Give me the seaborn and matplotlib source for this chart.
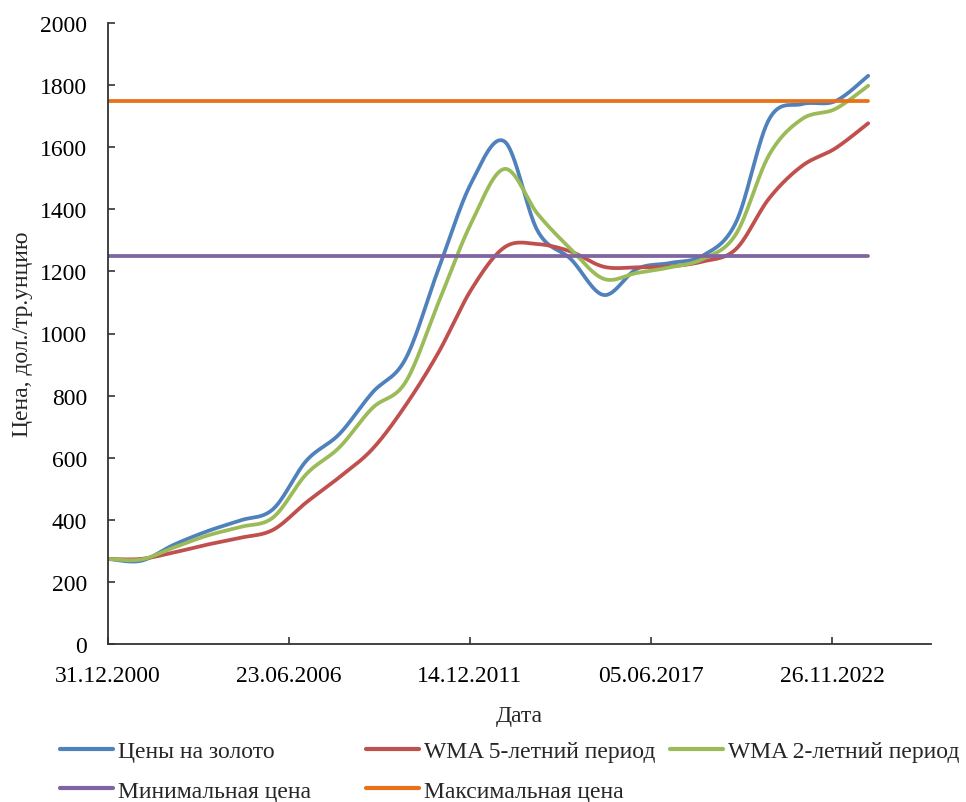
import numpy as np
import pandas as pd
import seaborn as sns
import matplotlib
matplotlib.use("Agg")
import matplotlib.pyplot as plt
from matplotlib.lines import Line2D
import datetime as dt

# ---- data ----
years = list(range(2000, 2024))
gold = [274, 268, 320, 363, 398, 435, 590, 676, 810, 918, 1208, 1487, 1618,
        1330, 1240, 1124, 1208, 1227, 1251, 1358, 1690, 1739, 1748, 1830]
wma5 = [274, 274, 295, 320, 342, 368, 456, 537, 628, 768, 939, 1143, 1278,
        1288, 1264, 1215, 1213, 1216, 1232, 1272, 1435, 1540, 1596, 1677]
wma2 = [274, 272, 311, 349, 377, 408, 547, 633, 760, 843, 1100, 1358, 1530,
        1385, 1272, 1176, 1195, 1213, 1240, 1320, 1575, 1691, 1723, 1798]
min_price = [1250] * len(years)
max_price = [1750] * len(years)
tick_dates = ["31.12.2000", "23.06.2006", "14.12.2011", "05.06.2017", "26.11.2022"]
labels = ["Цены на золото", "WMA 5-летний период", "WMA 2-летний период",
          "Минимальная цена", "Максимальная цена"]
colors = ["#4F81BD", "#C0504D", "#9BBB59", "#8064A2", "#E8711A"]

start = dt.date(2000, 12, 31)
x_days = np.array([(dt.date(y, 12, 31) - start).days for y in years], float)


def smooth(x, y, n=30):
    """Excel-like smoothed line (cubic Bezier, Catmull-Rom control points)."""
    x = np.asarray(x, float); y = np.asarray(y, float)
    P = np.column_stack([x, y])
    Pe = np.vstack([P[0], P, P[-1]])
    out = [P[0]]
    t = np.linspace(0, 1, n)[1:, None]
    for i in range(len(P) - 1):
        p0, p3 = Pe[i + 1], Pe[i + 2]
        c1 = p0 + (Pe[i + 2] - Pe[i]) / 6.0
        c2 = p3 - (Pe[i + 3] - Pe[i + 1]) / 6.0
        seg = ((1 - t) ** 3) * p0 + 3 * ((1 - t) ** 2) * t * c1 + 3 * (1 - t) * t ** 2 * c2 + t ** 3 * p3
        out.extend(seg)
    out = np.array(out)
    return out[:, 0], out[:, 1]


sns.set_theme(style="white")
plt.rcParams["font.family"] = ["Liberation Serif", "DejaVu Serif"]
FS = 17

fig = plt.figure(figsize=(9.66, 8.03), dpi=100)
ax = fig.add_axes([108 / 966, 1 - 645 / 803, (931 - 108) / 966, (645 - 24) / 803])

series = [gold, wma5, wma2]
for vals, lab, col in zip(series, labels[:3], colors[:3]):
    sx, sy = smooth(x_days, vals)
    df = pd.DataFrame({"x": sx, "y": sy})
    sns.lineplot(data=df, x="x", y="y", ax=ax, color=col, linewidth=2.7,
                 sort=False, estimator=None, legend=False)
for vals, col in zip([min_price, max_price], colors[3:]):
    df = pd.DataFrame({"x": x_days, "y": vals})
    sns.lineplot(data=df, x="x", y="y", ax=ax, color=col, linewidth=2.7,
                 sort=False, estimator=None, legend=False)

ax.set_ylim(0, 2000)
ax.set_xlim(0, 9094)
ax.set_yticks(np.arange(0, 2001, 200))
tick_pos = [(dt.datetime.strptime(s, "%d.%m.%Y").date() - start).days for s in tick_dates]
ax.set_xticks(tick_pos)
ax.set_xticklabels(tick_dates)
ax.tick_params(axis="both", direction="in", length=5, width=1.2, colors="#333333",
               labelsize=FS, labelcolor="black")
ax.tick_params(axis="y", pad=15, left=True)
ax.tick_params(axis="x", pad=15, bottom=True)
for s in ["top", "right"]:
    ax.spines[s].set_visible(False)
for s in ["left", "bottom"]:
    ax.spines[s].set_color("#333333")
    ax.spines[s].set_linewidth(1.3)
ax.grid(False)
ax.set_xlabel("Дата", fontsize=FS, labelpad=14)
ax.set_ylabel("Цена, дол./тр.унцию", fontsize=FS, labelpad=5)

# legend: 5 single-entry legends placed in a 3-column grid
pos = [(60, 752), (366, 752), (670, 752), (60, 792), (366, 792)]
for (px, py), lab, col in zip(pos, labels, colors):
    h = Line2D([], [], color=col, linewidth=3)
    fig.legend([h], [lab], loc="center left",
               bbox_to_anchor=(px / 966, 1 - py / 803),
               frameon=False, fontsize=FS, borderpad=0, borderaxespad=0,
               handlelength=2.25, handletextpad=0.2)

fig.savefig("out.png", dpi=100)
